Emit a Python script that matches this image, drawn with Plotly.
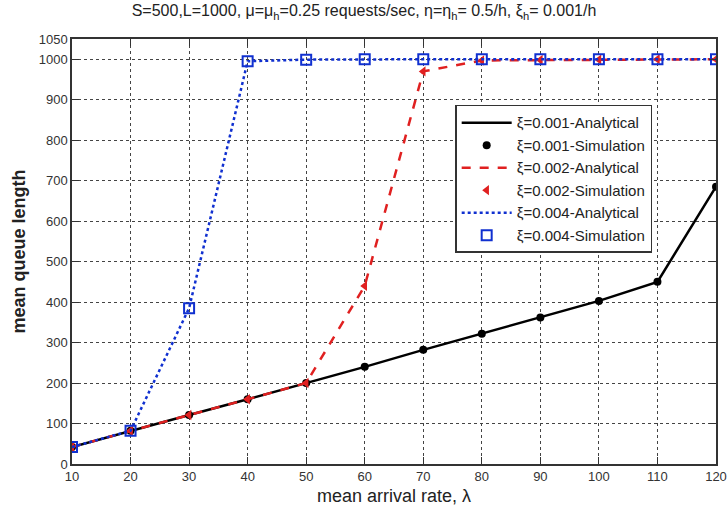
import plotly.graph_objects as go

arrival_rate = [10, 20, 30, 40, 50, 60, 70, 80, 90, 100, 110, 120]
xi_001 = [42, 82, 121, 160, 200, 240, 282, 322, 362, 403, 450, 685]
xi_002 = [42, 82, 121, 160, 200, 440, 970, 997, 998, 999, 1000, 1000]
xi_004 = [42, 82, 385, 995, 999, 1000, 1000, 1000, 1000, 1000, 1000, 1000]
x_ticks = [10, 20, 30, 40, 50, 60, 70, 80, 90, 100, 110, 120]
y_ticks = [0, 100, 200, 300, 400, 500, 600, 700, 800, 900, 1000, 1050]

FONT = "Liberation Sans, Arial, sans-serif"

fig = go.Figure()
fig.add_trace(go.Scatter(x=arrival_rate, y=xi_001, mode="lines", name="ξ=0.001-Analytical",
                         line=dict(color="black", width=2.5)))
fig.add_trace(go.Scatter(x=arrival_rate, y=xi_001, mode="markers", name="ξ=0.001-Simulation",
                         marker=dict(color="black", size=8, symbol="circle")))
fig.add_trace(go.Scatter(x=arrival_rate, y=xi_002, mode="lines", name="ξ=0.002-Analytical",
                         line=dict(color="#e02020", width=2.5, dash="dash")))
fig.add_trace(go.Scatter(x=arrival_rate, y=xi_002, mode="markers", name="ξ=0.002-Simulation",
                         marker=dict(color="#e02020", size=9, symbol="triangle-left")))
fig.add_trace(go.Scatter(x=arrival_rate, y=xi_004, mode="lines", name="ξ=0.004-Analytical",
                         line=dict(color="#1030d0", width=2.5, dash="dot")))
fig.add_trace(go.Scatter(x=arrival_rate, y=xi_004, mode="markers", name="ξ=0.004-Simulation",
                         marker=dict(color="#1030d0", size=10, symbol="square-open",
                                     line=dict(width=2))))

axis_common = dict(
    showline=True, linecolor="#333", linewidth=1.5, mirror="ticks",
    ticks="inside", ticklen=7, tickcolor="#333",
    showgrid=True, gridcolor="#444", gridwidth=1, griddash="3px,3px",
    zeroline=False, tickfont=dict(size=13, color="#333", family=FONT),
    automargin=False, ticklabeloverflow="allow",
)

fig.update_layout(
    width=728, height=518,
    paper_bgcolor="white", plot_bgcolor="white",
    margin=dict(l=72, r=12, t=39, b=54),
    font=dict(family=FONT, color="#222"),
    title=dict(text="S=500,L=1000, μ=μ<sub>h</sub>=0.25 requests/sec, η=η<sub>h</sub>= 0.5/h, ξ<sub>h</sub>= 0.001/h",
               x=0.5, xanchor="center", y=0.99, yanchor="top",
               font=dict(size=16, color="#222", family=FONT)),
    xaxis=dict(range=[10, 120], tickvals=x_ticks,
               title=dict(text="mean arrival rate, λ", font=dict(size=18, family=FONT), standoff=6),
               **axis_common),
    yaxis=dict(range=[0, 1050], tickvals=y_ticks,
               title=dict(text="<b>mean queue length</b>", font=dict(size=18, family=FONT), standoff=8),
               **axis_common),
    legend=dict(x=0.595, y=0.845, xanchor="left", yanchor="top",
                bgcolor="white", bordercolor="#333", borderwidth=1.5,
                font=dict(size=15, color="#222", family=FONT),
                tracegroupgap=0, itemwidth=50),
    showlegend=True,
)

fig.write_html("out.html", config={"displayModeBar": False},
               post_script="document.body.style.margin='0';document.body.style.overflow='hidden';")
